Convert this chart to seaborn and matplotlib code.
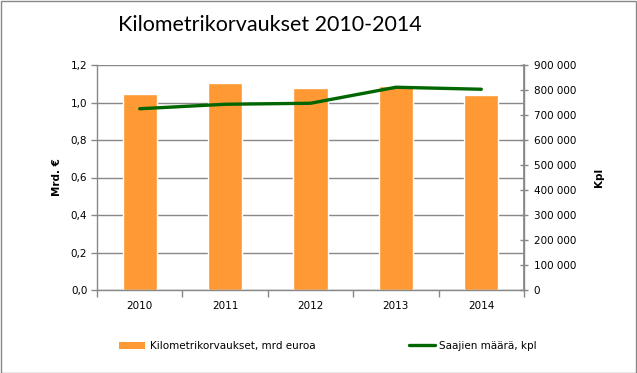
import numpy as np
import matplotlib
matplotlib.use("Agg")
import matplotlib.pyplot as plt
import seaborn as sns
from matplotlib.patches import Patch, Rectangle
from matplotlib.lines import Line2D
from matplotlib.ticker import FuncFormatter, FixedLocator

years = ["2010", "2011", "2012", "2013", "2014"]
korvaukset = [1.045, 1.104, 1.077, 1.088, 1.040]   # mrd euroa
saajat = [725000, 743000, 747000, 811000, 803000]  # kpl

bar_color = "#FF9933"
line_color = "#006600"
axis_gray = "#888888"

sns.set_theme(style="white")
plt.rcParams["font.family"] = ["DejaVu Sans"]
plt.rcParams["text.color"] = "black"
plt.rcParams["xtick.color"] = "black"
plt.rcParams["ytick.color"] = "black"
plt.rcParams["axes.labelcolor"] = "black"

fig = plt.figure(figsize=(6.37, 3.73), dpi=100)
ax = fig.add_axes([97 / 637, 1 - 290 / 373, 427 / 637, 225 / 373])

sns.barplot(x=years, y=korvaukset, color=bar_color, width=0.4, saturation=1, ax=ax)
ax.set_ylim(0, 1.2)
ax.set_yticks(np.arange(0, 1.21, 0.2))
ax.yaxis.set_major_formatter(FuncFormatter(lambda v, p: f"{v:.1f}".replace(".", ",")))
ax.grid(axis="y", color=axis_gray, linewidth=1)
ax.set_axisbelow(True)
ax.set_xlim(-0.5, 4.5)
ax.xaxis.set_minor_locator(FixedLocator(np.arange(-0.5, 5, 1)))
ax.tick_params(axis="x", which="major", length=0, labelsize=7.5, pad=8)
ax.tick_params(axis="x", which="minor", length=5, width=1, color=axis_gray, bottom=True)
ax.tick_params(axis="y", length=4, width=1, color=axis_gray, labelsize=7.5, left=True, pad=3)
ax.set_ylabel("Mrd. €", fontsize=7.5, fontweight="bold", labelpad=6)
ax.set_xlabel("")
ax.spines["top"].set_visible(False)
for s in ["left", "bottom", "right"]:
    ax.spines[s].set_color(axis_gray)
    ax.spines[s].set_linewidth(1)

ax2 = ax.twinx()
sns.pointplot(x=years, y=saajat, color=line_color, markers="", linewidth=2.4,
              errorbar=None, ax=ax2)
ax2.set_ylim(0, 900000)
ax2.set_yticks(np.arange(0, 900001, 100000))
ax2.yaxis.set_major_formatter(FuncFormatter(lambda v, p: f"{int(v):,}".replace(",", " ")))
ax2.tick_params(axis="y", direction="inout", length=6, width=1, color=axis_gray,
                labelsize=7.5, right=True, pad=4)
ax2.set_ylabel("Kpl", fontsize=7.5, fontweight="bold", rotation=90, labelpad=13)
ax2.grid(False)
for s in ["top", "left", "bottom"]:
    ax2.spines[s].set_visible(False)
ax2.spines["right"].set_color(axis_gray)
ax2.set_xlim(-0.5, 4.5)

fig.text(118 / 637, 1 - 25 / 373, "Kilometrikorvaukset 2010-2014", family="Lato",
         fontsize=15.5, ha="left", va="center")

handles = [Patch(facecolor=bar_color, edgecolor="none"),
           Line2D([0], [0], color=line_color, linewidth=2.4)]
labels = ["Kilometrikorvaukset, mrd euroa", "Saajien määrä, kpl"]
fig.legend(handles, labels, loc="center", bbox_to_anchor=(0.515, 1 - 346 / 373),
           ncol=2, frameon=False, fontsize=7.5, handlelength=2.5, handleheight=0.7,
           handletextpad=0.4, columnspacing=9)

fig.patches.append(Rectangle((0.001, 0.001), 0.997, 0.996, transform=fig.transFigure,
                             fill=False, edgecolor=axis_gray, linewidth=1))

fig.savefig("out.png", dpi=100)
